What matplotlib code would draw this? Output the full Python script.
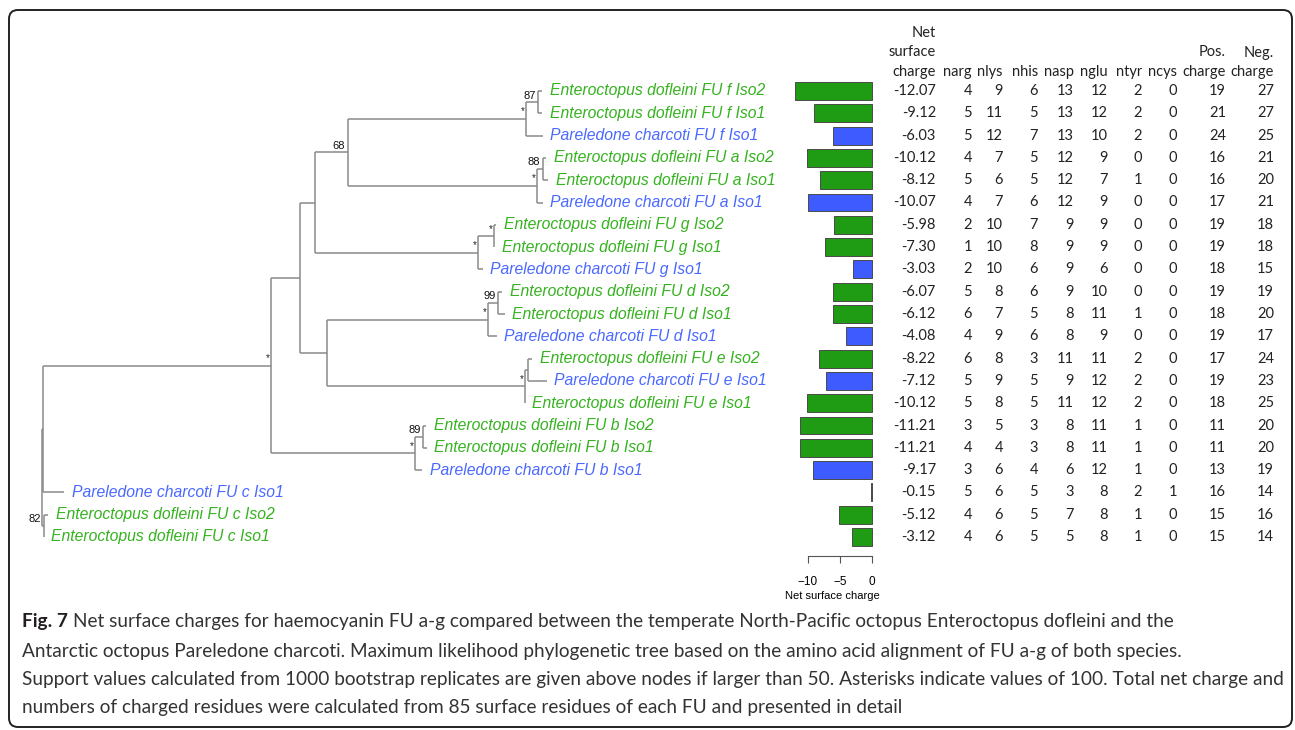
import matplotlib
matplotlib.use("Agg")
import matplotlib.pyplot as plt
from matplotlib import transforms
from matplotlib.patches import FancyBboxPatch

# tip labels, top to bottom
labels = [
    "Enteroctopus dofleini FU f Iso2", "Enteroctopus dofleini FU f Iso1", "Pareledone charcoti FU f Iso1",
    "Enteroctopus dofleini FU a Iso2", "Enteroctopus dofleini FU a Iso1", "Pareledone charcoti FU a Iso1",
    "Enteroctopus dofleini FU g Iso2", "Enteroctopus dofleini FU g Iso1", "Pareledone charcoti FU g Iso1",
    "Enteroctopus dofleini FU d Iso2", "Enteroctopus dofleini FU d Iso1", "Pareledone charcoti FU d Iso1",
    "Enteroctopus dofleini FU e Iso2", "Pareledone charcoti FU e Iso1", "Enteroctopus dofleini FU e Iso1",
    "Enteroctopus dofleini FU b Iso2", "Enteroctopus dofleini FU b Iso1", "Pareledone charcoti FU b Iso1",
    "Pareledone charcoti FU c Iso1", "Enteroctopus dofleini FU c Iso2", "Enteroctopus dofleini FU c Iso1",
]

net_charge = [-12.07, -9.12, -6.03, -10.12, -8.12, -10.07, -5.98, -7.30, -3.03, -6.07, -6.12,
              -4.08, -8.22, -7.12, -10.12, -11.21, -11.21, -9.17, -0.15, -5.12, -3.12]
narg = [4, 5, 5, 4, 5, 4, 2, 1, 2, 5, 6, 4, 6, 5, 5, 3, 4, 3, 5, 4, 4]
nlys = [9, 11, 12, 7, 6, 7, 10, 10, 10, 8, 7, 9, 8, 9, 8, 5, 4, 6, 6, 6, 6]
nhis = [6, 5, 7, 5, 5, 6, 7, 8, 6, 6, 5, 6, 3, 5, 5, 3, 3, 4, 5, 5, 5]
nasp = [13, 13, 13, 12, 12, 12, 9, 9, 9, 9, 8, 8, 11, 9, 11, 8, 8, 6, 3, 7, 5]
nglu = [12, 12, 10, 9, 7, 9, 9, 9, 6, 10, 11, 9, 11, 12, 12, 11, 11, 12, 8, 8, 8]
ntyr = [2, 2, 2, 0, 1, 0, 0, 0, 0, 0, 1, 0, 2, 2, 2, 1, 1, 1, 2, 1, 1]
ncys = [0, 0, 0, 0, 0, 0, 0, 0, 0, 0, 0, 0, 0, 0, 0, 0, 0, 0, 1, 0, 0]
pos_charge = [19, 21, 24, 16, 16, 17, 19, 19, 18, 19, 18, 19, 17, 19, 18, 11, 11, 13, 16, 15, 15]
neg_charge = [27, 27, 25, 21, 20, 21, 18, 18, 15, 19, 20, 17, 24, 23, 25, 20, 20, 19, 14, 16, 14]

# tree: tip depths (branch length from root) and internal nodes
tip_depth = [0.500, 0.500, 0.501, 0.504, 0.506, 0.501, 0.454, 0.452, 0.441, 0.460, 0.463,
             0.455, 0.490, 0.505, 0.483, 0.384, 0.385, 0.380, 0.022, 0.006, 0.0015]
nodes = {
    "f_sub": (0.496, [0, 1], "87"),
    "f": (0.484, ["f_sub", 2], "*"),
    "a_sub": (0.501, [3, 4], "88"),
    "a": (0.495, ["a_sub", 5], "*"),
    "fa": (0.3055, ["f", "a"], "68"),
    "g_sub": (0.452, [6, 7], "*"),
    "g": (0.436, ["g_sub", 8], "*"),
    "fag": (0.273, ["fa", "g"], ""),
    "d_sub": (0.456, [9, 10], "99"),
    "d": (0.446, ["d_sub", 11], "*"),
    "e_sub": (0.486, [12, 13], ""),
    "e": (0.483, ["e_sub", 14], "*"),
    "de": (0.285, ["d", "e"], ""),
    "fagde": (0.258, ["fag", "de"], ""),
    "b_sub": (0.381, [15, 16], "89"),
    "b": (0.373, ["b_sub", 17], "*"),
    "upper": (0.229, ["fagde", "b"], "*"),
    "A": (0.001, ["upper", 18], ""),
    "c_sub": (0.0015, [19, 20], "82"),
    "root": (0.0, ["A", "c_sub"], ""),
}

col_names = [["narg"], ["nlys"], ["nhis"], ["nasp"], ["nglu"], ["ntyr"], ["ncys"],
             ["Pos.", "charge"], ["Neg.", "charge"]]
col_values = [narg, nlys, nhis, nasp, nglu, ntyr, ncys, pos_charge, neg_charge]
col_right = [972, 1003, 1038, 1074, 1108, 1142, 1177, 1226, 1274]

caption = [
    "Net surface charges for haemocyanin FU a-g compared between the temperate North-Pacific octopus Enteroctopus dofleini and the",
    "Antarctic octopus Pareledone charcoti. Maximum likelihood phylogenetic tree based on the amino acid alignment of FU a-g of both species.",
    "Support values calculated from 1000 bootstrap replicates are given above nodes if larger than 50. Asterisks indicate values of 100. Total net charge and",
    "numbers of charged residues were calculated from 85 surface residues of each FU and presented in detail",
]

green_txt, blue_txt = "#35b21f", "#4a68ff"
green_bar, blue_bar = "#1f9c14", "#3d5bff"
is_pc = [lab.startswith("Pareledone") for lab in labels]

W, H = 1295, 730
fig = plt.figure(figsize=(W / 100, H / 100), dpi=100)

# pixel overlay for text, border, caption
ov = fig.add_axes([0, 0, 1, 1])
ov.set_xlim(0, W)
ov.set_ylim(H, 0)
ov.axis("off")

# tree axes: x = depth, y = row
row0, drow = 91, 22.3
tr = fig.add_axes([0, 0, 1, 1])
tr.set_xlim(-0.042, (W - 42) / 1000)
tr.set_ylim((H - row0) / drow, -row0 / drow)
tr.axis("off")
tr.patch.set_alpha(0)

node_y = {}
def get_y(k):
    if isinstance(k, int):
        return k
    if k not in node_y:
        ys = [get_y(c) for c in nodes[k][1]]
        node_y[k] = (min(ys) + max(ys)) / 2
    return node_y[k]

def get_x(k):
    return tip_depth[k] if isinstance(k, int) else nodes[k][0]

lc = "#8a8a8a"
for name, (dx, kids, sup) in nodes.items():
    ys = [get_y(c) for c in kids]
    tr.plot([dx, dx], [min(ys), max(ys)], color=lc, lw=1.1, solid_capstyle="butt")
    for c in kids:
        tr.plot([dx, get_x(c)], [get_y(c), get_y(c)], color=lc, lw=1.1, solid_capstyle="butt")
    y = get_y(name)
    if sup == "*":
        tr.text(dx - 0.0035, y - 0.33, "*", fontsize=7, ha="center", va="center",
                family="Liberation Sans", color="#222222")
    elif sup:
        tr.text(dx - 0.0025, y - 0.07, sup, fontsize=8, ha="right", va="bottom",
                family="Liberation Sans", color="#111111")

for i, lab in enumerate(labels):
    tr.text(tip_depth[i] + 0.0075, i, lab, fontsize=11.3, style="italic",
            family="Liberation Sans", ha="left", va="center",
            color=blue_txt if is_pc[i] else green_txt)

# bar axes: net surface charge
bar_left, bar_right, spine_px = 872 - 13 * 6.4, 872 + 0.5 * 6.4, 556
bx = fig.add_axes([bar_left / W, (H - spine_px) / H, (bar_right - bar_left) / W, spine_px / H])
bx.barh(range(len(net_charge)), net_charge, height=0.8,
        color=[blue_bar if p else green_bar for p in is_pc], edgecolor="#4a4a4a", linewidth=0.7)
bx.set_xlim(-13, 0.5)
bx.set_ylim((spine_px - row0) / drow, -row0 / drow)
bx.patch.set_alpha(0)
for s in ["top", "left", "right"]:
    bx.spines[s].set_visible(False)
bx.spines["bottom"].set_bounds(-10, 0)
bx.spines["bottom"].set_color("#555555")
bx.spines["bottom"].set_linewidth(0.8)
bx.set_yticks([])
bx.set_xticks([-10, -5, 0])
bx.set_xticklabels(["\u221210", "\u22125", "0"], family="Liberation Sans")
bx.tick_params(axis="x", direction="out", length=5, width=0.8, color="#555555",
               labelsize=8.5, pad=9.5)
bx.set_xlabel("Net surface charge", fontsize=8, family="Liberation Sans", labelpad=2)

# table
tfont = dict(family=["Lato", "DejaVu Sans"], fontsize=10.5, color="#222222")
yt = transforms.blended_transform_factory(ov.transData, tr.transData)
for j, line in enumerate(["Net", "surface", "charge"]):
    ov.text(936, 33 + 19.5 * j, line, ha="right", va="center", **tfont)
for i, v in enumerate(net_charge):
    ov.text(936, i, f"{v:.2f}", ha="right", va="center", transform=yt, **tfont)
for name, vals, xr in zip(col_names, col_values, col_right):
    for j, line in enumerate(name[::-1]):
        ov.text(xr, 72 - 19.5 * j, line, ha="right", va="center", **tfont)
    for i, v in enumerate(vals):
        ov.text(xr, i, str(v), ha="right", va="center", transform=yt, **tfont)

# border
ov.add_patch(FancyBboxPatch((9, 10), 1283, 717, boxstyle="round,pad=0,rounding_size=9",
                            fc="none", ec="#222222", lw=1.4))

# caption, font size fitted to the width of the third line
cfam = ["Lato", "DejaVu Sans"]
fig.canvas.draw()
rend = fig.canvas.get_renderer()
probe = ov.text(0, 0, caption[2], fontsize=10, family=cfam)
csize = 10 * 1261 / probe.get_window_extent(rend).width
probe.remove()
cy = [622, 651, 679, 707]
for j, line in enumerate(caption):
    x0 = 22
    if j == 0:
        t = ov.text(x0, cy[0], "Fig. 7", fontsize=csize, family=cfam, weight="bold",
                    ha="left", va="center", color="#231f20")
        x0 += t.get_window_extent(rend).width + csize * 0.35
    ov.text(x0, cy[j], line, fontsize=csize, family=cfam,
            ha="left", va="center", color="#333333")

fig.savefig("out.png", dpi=100)
